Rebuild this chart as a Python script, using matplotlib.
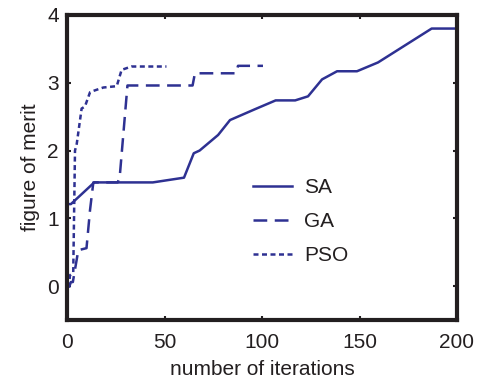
import matplotlib
matplotlib.use('Agg')
import matplotlib.pyplot as plt

plt.rcParams['font.family'] = ['Liberation Sans', 'DejaVu Sans']

# data
sa_x = [0, 2, 14, 44, 60, 65, 68, 77.5, 83.6, 96.4, 107, 117, 123.6, 130.8, 138.5, 148.7, 159.5, 187, 200]
sa_y = [1.21, 1.21, 1.53, 1.53, 1.6, 1.96, 2.0, 2.23, 2.45, 2.61, 2.74, 2.74, 2.8, 3.05, 3.17, 3.17, 3.3, 3.8, 3.8]

ga_x = [1, 2, 3, 5.8, 10, 11.8, 13.5, 26, 27, 31, 64.4, 65.6, 86.7, 87.7, 100.5]
ga_y = [-0.02, 0.06, 0.06, 0.53, 0.56, 1.12, 1.53, 1.53, 1.6, 2.96, 2.96, 3.14, 3.14, 3.25, 3.25]

pso_x = [1, 1.5, 3.2, 4.1, 5, 7.5, 9.2, 11.8, 13.5, 18.6, 25.5, 28, 33, 51]
pso_y = [-0.02, 0.16, 0.2, 2.0, 2.1, 2.62, 2.65, 2.86, 2.88, 2.93, 2.95, 3.19, 3.24, 3.24]

xticks = [0, 50, 100, 150, 200]
yticks = [0, 1, 2, 3, 4]

col = '#2E3192'
txt = '#231F20'
fs = 15

fig = plt.figure(figsize=(4.82, 3.83), dpi=100)
ax = fig.add_axes([67 / 482, 1 - 320 / 383, 390 / 482, 305 / 383])

ax.plot(sa_x, sa_y, color=col, lw=1.8, ls='-', label='SA')
ax.plot(ga_x, ga_y, color=col, lw=1.8, ls=(0, (5.5, 3)), label='GA')
ax.plot(pso_x, pso_y, color=col, lw=1.8, ls=(0, (2, 1.4)), label='PSO')

ax.set_xlim(0, 200)
ax.set_ylim(-0.5, 4)
ax.set_xticks(xticks)
ax.set_yticks(yticks)
ax.tick_params(direction='in', length=3, width=1.5, colors=txt, labelsize=fs, pad=6,
               top=True, right=True)
ax.tick_params(axis='x', pad=9)
for s in ax.spines.values():
    s.set_linewidth(3)
    s.set_color(txt)

ax.set_xlabel('number of iterations', fontsize=fs, color=txt, labelpad=6)
ax.set_ylabel('figure of merit', fontsize=fs, color=txt, labelpad=5)

ax.legend(loc='center left', bbox_to_anchor=(0.477, 0.322), frameon=False, fontsize=fs,
          handlelength=1.85, labelspacing=0.72, handletextpad=0.6, borderpad=0,
          borderaxespad=0, labelcolor=txt)

fig.savefig('out.png', dpi=100)
